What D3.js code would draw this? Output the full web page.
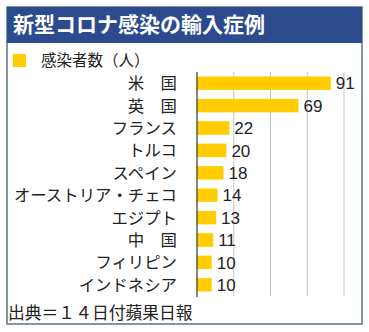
<!DOCTYPE html>
<html><head><meta charset="utf-8">
<script src="https://cdn.jsdelivr.net/npm/d3@7/dist/d3.min.js"></script>
<style>
html,body{margin:0;padding:0;background:#fff;}
svg{display:block;font-family:"Noto Sans CJK JP","Noto Sans",sans-serif;}
</style></head>
<body>
<svg id="chart" width="369" height="332"></svg>
<script>
const title = "新型コロナ感染の輸入症例";
const legendLabel = "感染者数（人）";
const source = "出典＝１４日付蘋果日報";
const categories = ["米　国","英　国","フランス","トルコ","スペイン","オーストリア・チェコ","エジプト","中　国","フィリピン","インドネシア"];
const values = [91,69,22,20,18,14,13,11,10,10];
const gridTicks = [25,50,75,100];

const svg = d3.select("#chart");
const frame = {x:7, y:7, w:355, h:317};

svg.append("rect").attr("x",frame.x).attr("y",frame.y).attr("width",frame.w).attr("height",frame.h)
  .attr("fill","#fff").attr("stroke","#5c6f8f").attr("stroke-width",1.5);
svg.append("rect").attr("x",frame.x).attr("y",frame.y).attr("width",frame.w).attr("height",36)
  .attr("fill","#2c4b8f");
svg.append("text").attr("x",13).attr("y",32).attr("fill","#fff")
  .attr("font-size",21).attr("font-weight",700).text(title);

// legend
svg.append("rect").attr("x",13).attr("y",54).attr("width",13).attr("height",13).attr("fill","#ffcc00");
svg.append("text").attr("x",41).attr("y",66).attr("font-size",15.5).attr("fill","#222").text(legendLabel);

const x = d3.scaleLinear().domain([0,100]).range([197,344]);
const y = d3.scaleBand().domain(categories).range([72,296]).paddingInner(0.4).paddingOuter(0.2);

// grid
svg.append("g").selectAll("line").data(gridTicks).join("line")
  .attr("x1",d=>x(d)).attr("x2",d=>x(d)).attr("y1",72).attr("y2",296)
  .attr("stroke","#c4c4c4").attr("stroke-width",1);

// bars
svg.append("g").selectAll("rect").data(values).join("rect")
  .attr("x",x(0)).attr("y",(d,i)=>y(categories[i]))
  .attr("width",d=>x(d)-x(0)).attr("height",y.bandwidth())
  .attr("fill","#ffcc00");

// axis line
svg.append("line").attr("x1",x(0)).attr("x2",x(0)).attr("y1",72).attr("y2",297)
  .attr("stroke","#333").attr("stroke-width",1.2);

// category labels
svg.append("g").selectAll("text").data(categories).join("text")
  .attr("x",177).attr("y",d=>y(d)+y.bandwidth()/2).attr("dy","0.36em")
  .attr("text-anchor","end").attr("font-size",16.4).attr("fill","#222").text(d=>d);

// value labels
svg.append("g").selectAll("text").data(values).join("text")
  .attr("x",d=>x(d)+5).attr("y",(d,i)=>y(categories[i])+y.bandwidth()/2).attr("dy","0.36em")
  .attr("font-family","'Liberation Sans',Arial,sans-serif")
  .attr("font-size",17).attr("fill","#222").text(d=>d);

// source
svg.append("text").attr("x",8).attr("y",319).attr("font-size",16.8).attr("fill","#222").text(source);
</script>
</body></html>
